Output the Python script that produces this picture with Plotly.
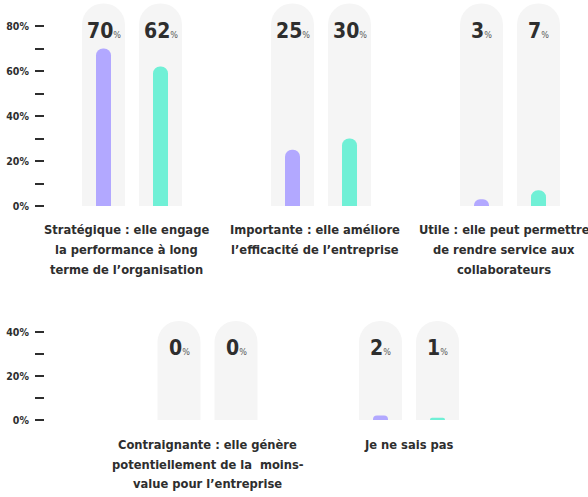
import plotly.graph_objects as go

# ---------------- data ----------------
top_categories = [
    "Stratégique : elle engage<br>la performance à long<br>terme de l’organisation",
    "Importante : elle améliore<br>l’efficacité de l’entreprise",
    "Utile : elle peut permettre<br>de rendre service aux<br>collaborateurs",
]
top_series_a = [70, 25, 3]
top_series_b = [62, 30, 7]
top_track = 90

bottom_categories = [
    "Contraignante : elle génère<br>potentiellement de la  moins-<br>value pour l’entreprise",
    "Je ne sais pas",
]
bottom_series_a = [0, 2]
bottom_series_b = [0, 1]
bottom_track = 45

top_tickvals = [0, 20, 40, 60, 80]
top_ticktext = ["0%", "20%", "40%", "60%", "80%"]
top_minor = [10, 30, 50, 70]
bottom_tickvals = [0, 20, 40]
bottom_ticktext = ["0%", "20%", "40%"]
bottom_minor = [10, 30]

# ---------------- style ----------------
W, H = 588, 497
ML = 45
PLOT_W = W - ML
COL_A = "#b2a8ff"
COL_B = "#70f0d6"
TRACK = "#f5f5f5"
TXT = "#2e2e2e"
FONT = "DejaVu Sans Condensed, DejaVu Sans, sans-serif"

BAR_OFF_PX = 28.5
TRACK_W_PX = 43
BAR_W_PX = 15
LABEL_SIZE = 12.8
LINE_GAP = 19.5

fig = go.Figure()


def add_group(cats, va, vb, track, base_x, base_y, over_x, over_y, px_per_unit):
    idx = list(range(len(cats)))
    off = BAR_OFF_PX / px_per_unit
    tw = TRACK_W_PX / px_per_unit
    bw = BAR_W_PX / px_per_unit
    # grey rounded tracks (base axes, drawn underneath)
    for sign in (-1, 1):
        fig.add_trace(go.Bar(
            x=[i + sign * off for i in idx], y=[track] * len(cats),
            xaxis=base_x, yaxis=base_y, width=tw,
            marker=dict(color=TRACK, cornerradius="50%", line_width=0),
            hoverinfo="skip", showlegend=False))
    # coloured value bars (overlaying axes, drawn on top)
    for sign, vals, col in ((-1, va, COL_A), (1, vb, COL_B)):
        fig.add_trace(go.Bar(
            x=[i + sign * off for i in idx], y=vals,
            xaxis=over_x, yaxis=over_y, width=bw,
            customdata=cats,
            hovertemplate="%{customdata}<br>%{y}%<extra></extra>",
            marker=dict(color=col, cornerradius="50%", line_width=0),
            showlegend=False))
    for i in idx:
        for sign, vals in ((-1, va), (1, vb)):
            fig.add_annotation(
                x=i + sign * off, y=track, xref=base_x, yref=base_y,
                yshift=-27, yanchor="middle", xanchor="center",
                showarrow=False,
                text=(f"<b>{vals[i]}</b>"
                      f"<span style='font-size:9px;color:#555555'>%</span>"),
                font=dict(family=FONT, size=21, color=TXT))


def add_labels(cats, xa, first_mid_px, xshift):
    for i, c in enumerate(cats):
        for k, line in enumerate(c.split("<br>")):
            fig.add_annotation(
                x=i, xref=xa, y=1 - (first_mid_px + k * LINE_GAP) / H, yref="paper",
                xshift=xshift, yanchor="middle", xanchor="center",
                showarrow=False, text=line,
                font=dict(family=FONT, size=LABEL_SIZE, color=TXT, weight="bold"))


# top subplot
s1 = 189.0
a1 = -(132 - ML) / s1
xr1 = [a1, a1 + PLOT_W / s1]
yr1 = [0, 206 / 2.25]
add_group(top_categories, top_series_a, top_series_b, top_track, "x", "y", "x3", "y3", s1)
add_labels(top_categories, "x", 230, -6)
# bottom subplot
s2 = 201.5
a2 = -(207.5 - ML) / s2
xr2 = [a2, a2 + PLOT_W / s2]
yr2 = [0, 110 / 2.2]
add_group(bottom_categories, bottom_series_a, bottom_series_b, bottom_track, "x2", "y2", "x4", "y4", s2)
add_labels(bottom_categories, "x2", 444.5, 0)

axis_common = dict(showgrid=False, zeroline=False, showline=False, automargin=False,
                   fixedrange=True)
yaxis_common = dict(
    ticks="outside", ticklen=9, tickwidth=2, tickcolor=TXT,
    tickfont=dict(family=FONT, size=10.5, color=TXT, weight="bold"),
    ticklabelstandoff=4, **axis_common)
hidden_x = dict(showticklabels=False, ticks="", **axis_common)
hidden_y = dict(showticklabels=False, ticks="", **axis_common)

dom_top = [1 - 206 / H, 1]
dom_bot = [1 - 420 / H, 1 - 310 / H]

fig.update_layout(
    width=W, height=H, autosize=False,
    margin=dict(l=ML, r=0, t=0, b=0, pad=0),
    paper_bgcolor="white", plot_bgcolor="white",
    barmode="overlay", showlegend=False,
    xaxis=dict(domain=[0, 1], anchor="y", range=xr1, **hidden_x),
    yaxis=dict(domain=dom_top, anchor="x", range=yr1,
               tickvals=top_tickvals, ticktext=top_ticktext,
               minor=dict(tickvals=top_minor, ticks="outside", ticklen=9,
                          tickwidth=2, tickcolor=TXT),
               **yaxis_common),
    xaxis3=dict(overlaying="x", anchor="y3", range=xr1, **hidden_x),
    yaxis3=dict(overlaying="y", anchor="x3", range=yr1, **hidden_y),
    xaxis2=dict(domain=[0, 1], anchor="y2", range=xr2, **hidden_x),
    yaxis2=dict(domain=dom_bot, anchor="x2", range=yr2,
                tickvals=bottom_tickvals, ticktext=bottom_ticktext,
                minor=dict(tickvals=bottom_minor, ticks="outside", ticklen=9,
                           tickwidth=2, tickcolor=TXT),
                **yaxis_common),
    xaxis4=dict(overlaying="x2", anchor="y4", range=xr2, **hidden_x),
    yaxis4=dict(overlaying="y2", anchor="x4", range=yr2, **hidden_y),
)

fig.write_html(
    "out.html",
    config={"displayModeBar": False},
    post_script="document.body.style.margin='0';document.body.style.overflow='hidden';",
)
